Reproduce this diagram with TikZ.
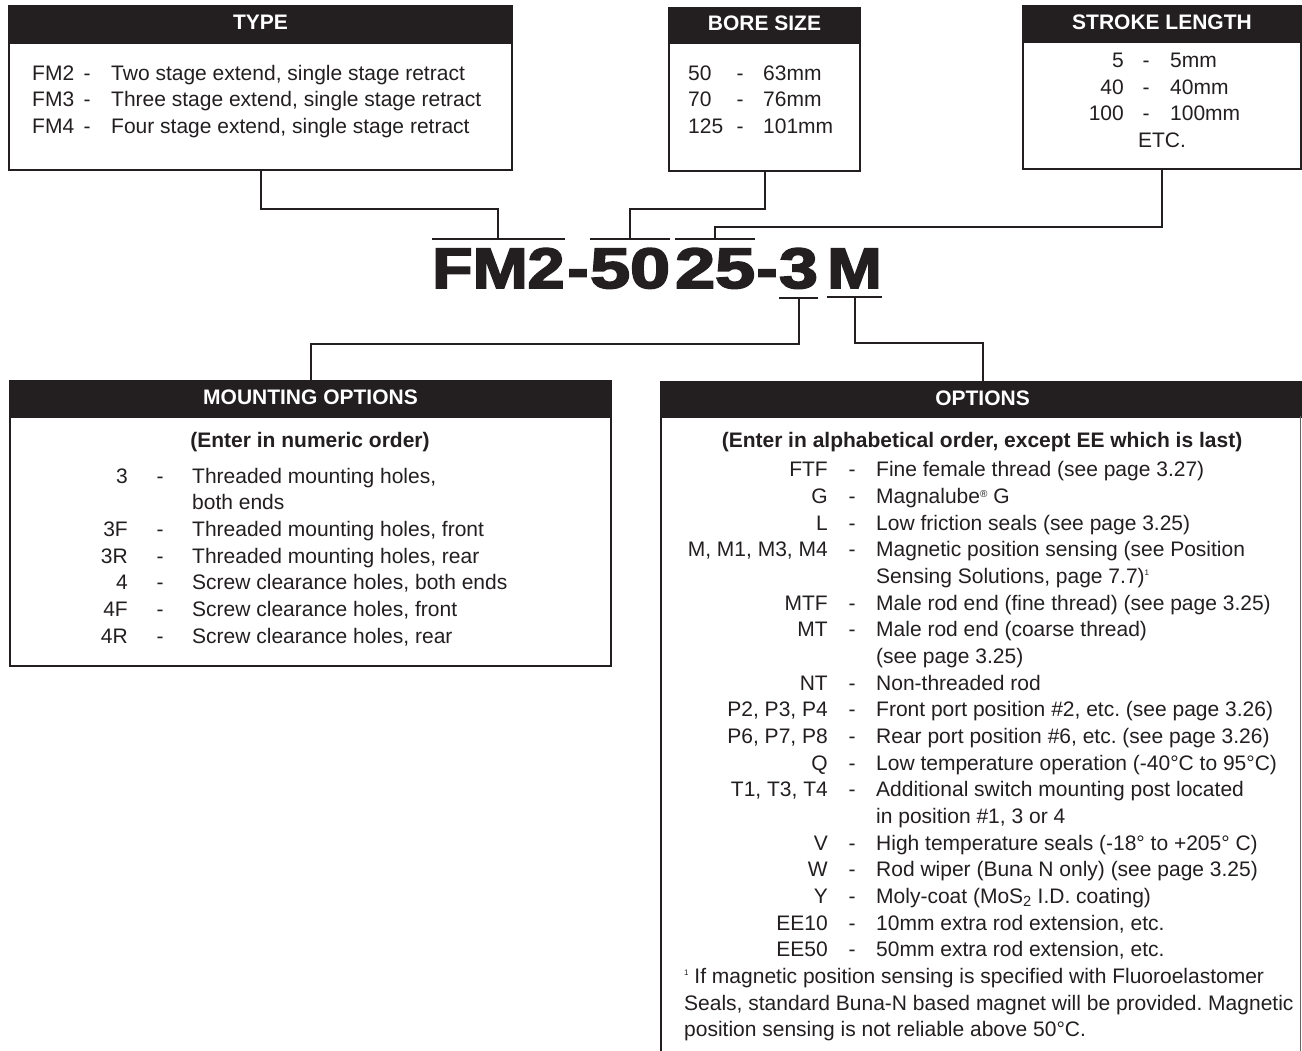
\documentclass[tikz,border=0pt]{standalone}
\usepackage{fontspec}
\setmainfont{Liberation Sans}
\newfontfamily\codefont{Liberation Sans}[UprightFont=* Bold, FakeBold=3]
\definecolor{ink}{HTML}{231F20}
\frenchspacing
\newcommand\orow[4]{\node[txtr] (#1c) at (828,#2) {#3}; \node[txtc] (#1d) at (852,#2) {-}; \node[txt] (#1t) at (876,#2) {#4};}
\newcommand\mrow[4]{\node[txtr] (#1c) at (128,#2) {#3}; \node[txtc] (#1d) at (160,#2) {-}; \node[txt] (#1t) at (192,#2) {#4};}
\newcommand\supone{{\fontsize{8}{8}\selectfont\raisebox{8pt}{1}}}
\begin{document}
\begin{tikzpicture}[x=1pt,y=-1pt,
  frame/.style={draw=ink, line width=2pt, anchor=north west, inner sep=0pt},
  head/.style={fill=ink, draw=ink, line width=2pt, anchor=north west, inner sep=0pt, text=white, text height=15pt, text depth=4pt, font=\fontsize{21}{25}\selectfont\bfseries},
  txt/.style={anchor=base west, inner sep=0pt, text=ink, font=\fontsize{21}{25}\selectfont},
  txtr/.style={txt, anchor=base east},
  txtc/.style={txt, anchor=base},
  btxt/.style={txtc, font=\fontsize{21}{25}\selectfont\bfseries},
  code/.style={anchor=base west, inner sep=0pt, text=ink, font=\codefont\fontsize{57}{60}\selectfont},
  link/.style={draw=ink, line width=2pt},
  bar/.style={draw=ink, line width=2.5pt},
]
\fill[white] (0,0) rectangle (1302,1051);
\useasboundingbox (0,0) rectangle (1302,1051);

% ---- TYPE
\node[frame, minimum width=503pt, minimum height=164pt] (type) at (8,5) {};
\node[head, minimum width=503pt, minimum height=37pt] (typeh) at (8,5) {TYPE};
\node[txt] (t1c) at (32,81) {FM2};  \node[txtc] (t1d) at (87,81) {-};  \node[txt] (t1t) at (111,81) {Two stage extend, single stage retract};
\node[txt] (t2c) at (32,107) {FM3}; \node[txtc] (t2d) at (87,107) {-}; \node[txt] (t2t) at (111,107) {Three stage extend, single stage retract};
\node[txt] (t3c) at (32,134) {FM4}; \node[txtc] (t3d) at (87,134) {-}; \node[txt] (t3t) at (111,134) {Four stage extend, single stage retract};

% ---- BORE SIZE
\node[frame, minimum width=191pt, minimum height=163pt] (bore) at (668,7) {};
\node[head, minimum width=191pt, minimum height=35pt] (boreh) at (668,7) {BORE SIZE};
\node[txt] (b1c) at (688,81) {50};  \node[txtc] (b1d) at (740,81) {-};  \node[txt] (b1t) at (763,81) {63mm};
\node[txt] (b2c) at (688,107) {70}; \node[txtc] (b2d) at (740,107) {-}; \node[txt] (b2t) at (763,107) {76mm};
\node[txt] (b3c) at (688,134) {125}; \node[txtc] (b3d) at (740,134) {-}; \node[txt] (b3t) at (763,134) {101mm};

% ---- STROKE LENGTH
\node[frame, minimum width=278pt, minimum height=163pt] (stroke) at (1022,5) {};
\node[head, minimum width=278pt, minimum height=36pt] (strokeh) at (1022,5) {STROKE LENGTH};
\node[txtr] (s1c) at (1124,68) {5};   \node[txtc] (s1d) at (1146,68) {-};  \node[txt] (s1t) at (1170,68) {5mm};
\node[txtr] (s2c) at (1124,95) {40};  \node[txtc] (s2d) at (1146,95) {-};  \node[txt] (s2t) at (1170,95) {40mm};
\node[txtr] (s3c) at (1124,121) {100}; \node[txtc] (s3d) at (1146,121) {-}; \node[txt] (s3t) at (1170,121) {100mm};
\node[txtc] (s4) at (1162,148) {ETC.};

% ---- CODE
\node[code] (fm) at (432,288) {\scalebox{1.16}[1]{FM2}};
\node[code, anchor=base] (h1) at (578,288) {\scalebox{1.1}[1]{-}};
\node[code] (fifty) at (590,288) {\scalebox{1.26}[1]{50}};
\node[code] (tw) at (675,288) {\scalebox{1.26}[1]{25}};
\node[code, anchor=base] (h2) at (767,288) {\scalebox{1.1}[1]{-}};
\node[code] (three) at (779,288) {\scalebox{1.22}[1]{3}};
\node[code] (em) at (827,288) {\scalebox{1.15}[1]{M}};

\draw[bar] ([yshift=9pt]fm.north west) -- ([yshift=9pt]fm.north east);
\draw[bar] ([yshift=9pt]fifty.north west) -- ([yshift=9pt]fifty.north east);
\draw[bar] ([yshift=9pt]tw.north west) -- ([yshift=9pt]tw.north east);
\draw[bar] ([yshift=-9pt]three.south west) -- ([yshift=-9pt]three.south east);
\draw[bar] ([yshift=-9pt]em.south west) -- ([yshift=-9pt]em.south east);

\draw[link] (type.south) -- ++(0,38) -| ([yshift=9pt]fm.north);
\draw[link] (bore.south) -- ++(0,37) -| ([yshift=9pt]fifty.north);
\draw[link] (stroke.south) -- ++(0,57) -| ([yshift=9pt]tw.north);

% ---- MOUNTING OPTIONS
\node[frame, minimum width=601pt, minimum height=285pt] (mount) at (9,380) {};
\node[head, minimum width=601pt, minimum height=36pt] (mounth) at (9,380) {MOUNTING OPTIONS};
\node[btxt] (mnote) at (310,447) {(Enter in numeric order)};
\mrow{ma}{483}{3}{Threaded mounting holes,}
\node[txt] (mb) at (192,509) {both ends};
\mrow{mc}{536}{3F}{Threaded mounting holes, front}
\mrow{md}{563}{3R}{Threaded mounting holes, rear}
\mrow{me}{589}{4}{Screw clearance holes, both ends}
\mrow{mf}{616}{4F}{Screw clearance holes, front}
\mrow{mg}{643}{4R}{Screw clearance holes, rear}

% ---- OPTIONS
\node[head, minimum width=641pt, minimum height=35pt] (optbox) at (661,381) {OPTIONS};
\draw[line width=2.5pt, draw=ink] (optbox.north west) -- (661,1051);
\draw[line width=1pt, draw=ink!70] (1300,416) -- (1300,1051);
\node[btxt] (onote) at (982,447) {(Enter in alphabetical order, except EE which is last)};
\orow{oa}{476}{FTF}{Fine female thread (see page 3.27)}
\orow{ob}{503}{G}{Magnalube\raisebox{6pt}{\fontsize{10}{10}\selectfont\textregistered} G}
\orow{oc}{530}{L}{Low friction seals (see page 3.25)}
\orow{od}{556}{M, M1, M3, M4}{Magnetic position sensing (see Position}
\node[txt] (oe) at (876,583) {Sensing Solutions, page 7.7)\supone};
\orow{of}{610}{MTF}{Male rod end (fine thread) (see page 3.25)}
\orow{og}{636}{MT}{Male rod end (coarse thread)}
\node[txt] (oh) at (876,663) {(see page 3.25)};
\orow{oi}{690}{NT}{Non-threaded rod}
\orow{oj}{716}{P2, P3, P4}{Front port position \#2, etc. (see page 3.26)}
\orow{ok}{743}{P6, P7, P8}{Rear port position \#6, etc. (see page 3.26)}
\orow{ol}{770}{Q}{Low temperature operation (-40°C to 95°C)}
\orow{om}{796}{T1, T3, T4}{Additional switch mounting post located}
\node[txt] (on) at (876,823) {in position \#1, 3 or 4};
\orow{oo}{850}{V}{High temperature seals (-18° to +205° C)}
\orow{op}{876}{W}{Rod wiper (Buna N only) (see page 3.25)}
\orow{oq}{903}{Y}{Moly-coat (MoS\textsubscript{2} I.D. coating)}
\orow{or}{930}{EE10}{10mm extra rod extension, etc.}
\orow{os}{956}{EE50}{50mm extra rod extension, etc.}
\node[txt] (f1) at (684,983) {\supone\ If magnetic position sensing is specified with Fluoroelastomer};
\node[txt] (f2) at (684,1010) {Seals, standard Buna-N based magnet will be provided. Magnetic};
\node[txt] (f3) at (684,1036) {position sensing is not reliable above 50°C.};

\draw[link] ([yshift=-9pt]three.south) -- ++(0,46) -| (mount.north);
\draw[link] ([yshift=-9pt]em.south) -- ++(0,46) -| (optbox.north);
\end{tikzpicture}
\end{document}
